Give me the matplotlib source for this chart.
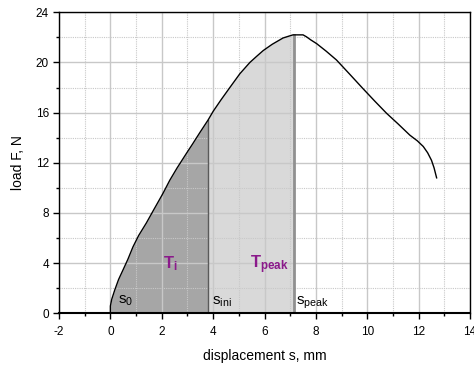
import matplotlib
matplotlib.use("Agg")
import matplotlib.pyplot as plt
import numpy as np
from matplotlib.ticker import MultipleLocator

plt.rcParams['font.family'] = ['Liberation Sans', 'DejaVu Sans']
plt.rcParams['axes.unicode_minus'] = False
plt.rcParams['mathtext.fontset'] = 'custom'
plt.rcParams['mathtext.rm'] = 'Liberation Sans'
plt.rcParams['mathtext.it'] = 'Liberation Sans:italic'
plt.rcParams['mathtext.bf'] = 'Liberation Sans:bold'

# Load-displacement curve
disp = [0.0, 0.0, 0.05, 0.17, 0.32, 0.49, 0.68, 0.88, 1.1, 1.4, 1.7, 2.05, 2.31, 2.6, 2.96, 3.2,
        3.48, 3.8, 4.0, 4.3, 4.65, 5.04, 5.43, 5.7, 5.95, 6.3, 6.72, 6.95, 7.11, 7.3, 7.5, 7.63,
        7.8, 8.03, 8.4, 8.8, 9.3, 9.84, 10.3, 10.75, 11.2, 11.66, 11.95, 12.18, 12.35, 12.5, 12.6, 12.7]
load = [0.0, 0.58, 1.1, 1.86, 2.7, 3.45, 4.3, 5.3, 6.2, 7.2, 8.3, 9.57, 10.6, 11.6, 12.75, 13.5,
        14.4, 15.4, 16.1, 17.0, 18.0, 19.1, 20.0, 20.5, 20.95, 21.45, 21.95, 22.1, 22.2, 22.2, 22.2, 22.05,
        21.8, 21.5, 20.9, 20.2, 19.1, 17.9, 16.9, 15.95, 15.1, 14.2, 13.75, 13.3, 12.8, 12.2, 11.6, 10.8]

s_ini = 3.8
s_peak = 7.14

x_ticks = [-2, 0, 2, 4, 6, 8, 10, 12, 14]
y_ticks = [0, 4, 8, 12, 16, 20, 24]

disp = np.array(disp)
load = np.array(load)

fig = plt.figure(figsize=(4.74, 3.67), dpi=100)
ax = fig.add_axes([0.1245, 0.1463, 0.8671, 0.8202])

# Fills
xi = np.linspace(0, s_ini, 200)
ax.fill_between(xi, 0, np.interp(xi, disp, load), color='#a6a6a6', lw=0, zorder=1)
xp = np.linspace(s_ini, s_peak, 200)
ax.fill_between(xp, 0, np.interp(xp, disp, load), color='#d9d9d9', lw=0, zorder=1)

ax.plot([s_ini, s_ini], [0, np.interp(s_ini, disp, load)], color='#5a5a5a', lw=1.0, zorder=3)
ax.plot([s_peak, s_peak], [0, np.interp(s_peak, disp, load)], color='#909090', lw=2.0, zorder=3)

ax.plot(disp, load, color='black', lw=1.0, zorder=4)

ax.set_xlim(-2, 14)
ax.set_ylim(0, 24)
ax.set_xticks(x_ticks)
ax.set_yticks(y_ticks)
ax.xaxis.set_minor_locator(MultipleLocator(1))
ax.yaxis.set_minor_locator(MultipleLocator(2))

ax.grid(which='major', color='#c8c8c8', lw=1.0, zorder=2)
ax.grid(which='minor', color='#c8c8c8', lw=0.8, ls=(0, (1, 1)), zorder=2)
ax.set_axisbelow(False)
for gl in ax.get_xgridlines() + ax.get_ygridlines():
    gl.set_zorder(2)

ax.tick_params(which='major', direction='out', length=4.3, width=1.0, labelsize=8.5, pad=3)
ax.tick_params(axis='x', which='major', pad=5)
ax.tick_params(which='minor', direction='out', length=2.2, width=1.0)
ax.tick_params(top=False, right=False, which='both')
for sp in ax.spines.values():
    sp.set_linewidth(1.0)
    sp.set_zorder(5)
ax.spines['bottom'].set_linewidth(1.5)

ax.set_xlabel('displacement s, mm', fontsize=10, labelpad=8)
ax.set_ylabel('load F, N', fontsize=10, labelpad=8)

ax.text(0.28, 0.75, r'$\mathregular{s_0}$', fontsize=11, zorder=6)
ax.text(3.95, 0.7, r'$\mathregular{s_{ini}}$', fontsize=11, zorder=6)
ax.text(7.24, 0.66, r'$\mathregular{s_{peak}}$', fontsize=11, zorder=6)
ax.text(2.04, 3.6, r'$\mathbf{T_i}$', fontsize=12, color='#8b1a8b', zorder=6)
ax.text(5.43, 3.6, r'$\mathbf{T_{peak}}$', fontsize=12, color='#8b1a8b', zorder=6)

fig.savefig('out.png', dpi=100)
